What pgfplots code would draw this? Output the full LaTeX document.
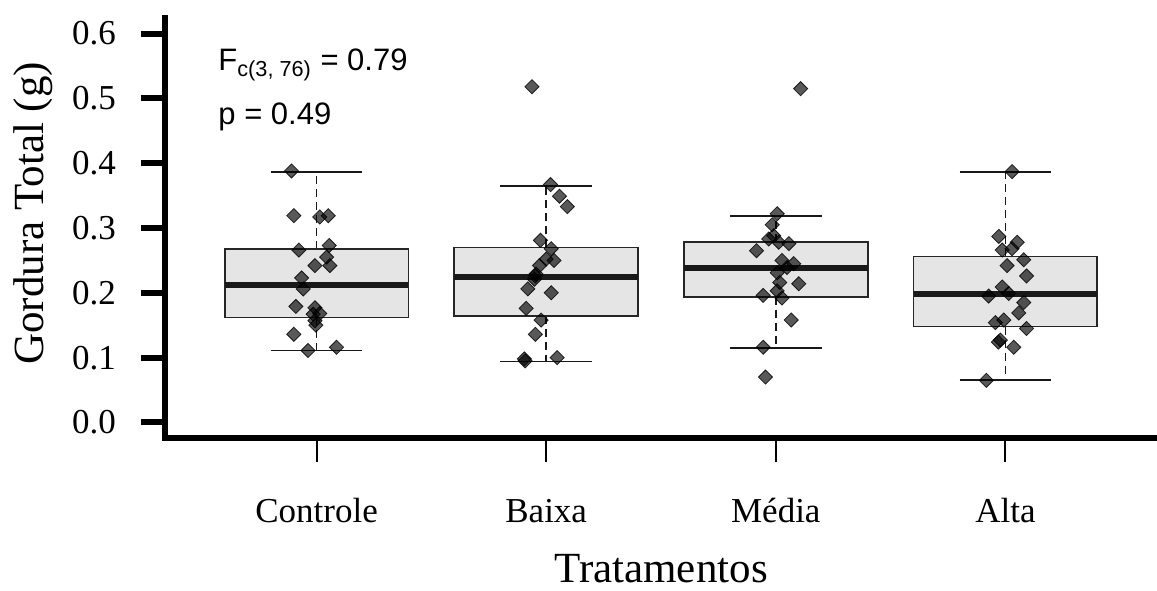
\documentclass[border=0pt]{standalone}
\usepackage{fontspec}
\setmainfont{Liberation Serif}
\newfontfamily\arialfont{Liberation Sans}
\usepackage{pgfplots}
\pgfplotsset{compat=1.18}
\definecolor{boxfill}{RGB}{229,229,229}

\pgfplotstableread{
x y
0.891 0.388
0.901 0.319
1.014 0.317
1.051 0.319
0.923 0.266
1.055 0.273
1.044 0.255
0.993 0.242
1.058 0.242
0.935 0.223
0.942 0.206
0.910 0.179
0.993 0.177
0.985 0.167
1.014 0.168
0.993 0.157
0.997 0.150
0.901 0.136
0.963 0.111
1.087 0.116
}\ptsControle
\pgfplotstableread{
x y
1.938 0.518
2.019 0.367
2.058 0.349
2.092 0.333
1.975 0.281
2.022 0.268
2.000 0.252
2.034 0.250
1.971 0.242
1.956 0.229
1.949 0.221
1.952 0.226
1.920 0.206
2.022 0.200
1.913 0.176
1.978 0.158
1.953 0.136
1.905 0.098
1.908 0.095
2.048 0.100
}\ptsBaixa
\pgfplotstableread{
x y
3.108 0.515
3.006 0.322
2.984 0.305
2.991 0.288
2.969 0.283
3.013 0.278
3.057 0.276
2.916 0.265
3.027 0.250
3.078 0.245
3.049 0.239
3.006 0.231
3.017 0.216
3.100 0.214
3.006 0.203
2.945 0.196
3.027 0.192
3.067 0.158
2.945 0.116
2.955 0.070
}\ptsMedia
\pgfplotstableread{
x y
4.029 0.387
3.971 0.287
4.051 0.278
3.986 0.266
4.029 0.268
4.080 0.251
4.007 0.242
4.092 0.226
3.986 0.209
3.927 0.195
4.014 0.199
4.080 0.185
4.058 0.169
3.956 0.154
3.993 0.158
4.092 0.145
3.978 0.127
3.969 0.124
4.036 0.116
3.917 0.065
}\ptsAlta

% box statistics: position, lower whisker, lower quartile, median, upper quartile, upper whisker
% Controle: 1, 0.111, 0.162, 0.212, 0.268, 0.387
% Baixa:    2, 0.094, 0.164, 0.224, 0.270, 0.365
% Media:    3, 0.115, 0.194, 0.238, 0.278, 0.318
% Alta:     4, 0.065, 0.148, 0.198, 0.256, 0.387

\begin{document}
\begin{tikzpicture}
\useasboundingbox (-82.5pt,-76pt) rectangle (496pt,219pt);
\begin{axis}[
  at={(0pt,0pt)}, anchor=south west,
  scale only axis, width=496pt, height=210pt,
  xmin=0.34, xmax=4.66, ymin=-0.024, ymax=0.624,
  axis x line*=bottom, axis y line*=left,
  axis line style={line width=3pt, line cap=rect, -},
  every outer x axis line/.append style={-},
  every outer y axis line/.append style={-},
  tick align=outside,
  major tick length=12pt,
  xtick={1,2,3,4},
  xticklabels={Controle,Baixa,Média,Alta},
  ytick={0,0.1,0.2,0.3,0.4,0.5,0.6},
  xtick style={line width=1pt, black},
  ytick style={line width=3pt, black},
  /pgf/number format/assume math mode=true,
  yticklabel style={/pgf/number format/fixed, /pgf/number format/fixed zerofill, /pgf/number format/precision=1, anchor=east, xshift=-9pt},
  ticklabel style={font=\fontsize{17.5pt}{21pt}\selectfont},
  xticklabel style={anchor=base, yshift=-30pt},
  xlabel={Tratamentos},
  ylabel={Gordura Total (g)},
  label style={font=\fontsize{21.5pt}{25pt}\selectfont},
  xlabel style={at={(axis description cs:0.5,0)}, anchor=base, yshift=-72pt},
  ylabel style={at={(axis description cs:-0.122,0.535)}, anchor=base},
  boxst/.style={draw=black!85, fill=boxfill, line width=0.9pt},
  medst/.style={draw=black!90, line width=3pt},
  whisk/.style={draw=black!90, line width=0.9pt, dash pattern=on 4pt off 2.5pt},
  capst/.style={draw=black!90, line width=0.9pt},
]
% Controle
\addplot[whisk] coordinates {(1,0.268) (1,0.387)};
\addplot[whisk] coordinates {(1,0.162) (1,0.111)};
\addplot[capst] coordinates {(0.8,0.387) (1.2,0.387)};
\addplot[capst] coordinates {(0.8,0.111) (1.2,0.111)};
\addplot[boxst] coordinates {(0.6,0.162) (1.4,0.162) (1.4,0.268) (0.6,0.268)} -- cycle;
\addplot[medst] coordinates {(0.6,0.212) (1.4,0.212)};
% Baixa
\addplot[whisk] coordinates {(2,0.270) (2,0.365)};
\addplot[whisk] coordinates {(2,0.164) (2,0.094)};
\addplot[capst] coordinates {(1.8,0.365) (2.2,0.365)};
\addplot[capst] coordinates {(1.8,0.094) (2.2,0.094)};
\addplot[boxst] coordinates {(1.6,0.164) (2.4,0.164) (2.4,0.270) (1.6,0.270)} -- cycle;
\addplot[medst] coordinates {(1.6,0.224) (2.4,0.224)};
% Media
\addplot[whisk] coordinates {(3,0.278) (3,0.318)};
\addplot[whisk] coordinates {(3,0.194) (3,0.115)};
\addplot[capst] coordinates {(2.8,0.318) (3.2,0.318)};
\addplot[capst] coordinates {(2.8,0.115) (3.2,0.115)};
\addplot[boxst] coordinates {(2.6,0.194) (3.4,0.194) (3.4,0.278) (2.6,0.278)} -- cycle;
\addplot[medst] coordinates {(2.6,0.238) (3.4,0.238)};
% Alta
\addplot[whisk] coordinates {(4,0.256) (4,0.387)};
\addplot[whisk] coordinates {(4,0.148) (4,0.065)};
\addplot[capst] coordinates {(3.8,0.387) (4.2,0.387)};
\addplot[capst] coordinates {(3.8,0.065) (4.2,0.065)};
\addplot[boxst] coordinates {(3.6,0.148) (4.4,0.148) (4.4,0.256) (3.6,0.256)} -- cycle;
\addplot[medst] coordinates {(3.6,0.198) (4.4,0.198)};

\pgfplotsset{ptstyle/.style={only marks, mark=square*, mark size=2.5pt,
  mark options={rotate=45, fill=black, fill opacity=0.65, draw=black, draw opacity=0.8, line width=0.4pt}}}
\addplot[ptstyle] table[x=x,y=y] {\ptsControle};
\addplot[ptstyle] table[x=x,y=y] {\ptsBaixa};
\addplot[ptstyle] table[x=x,y=y] {\ptsMedia};
\addplot[ptstyle] table[x=x,y=y] {\ptsAlta};

\node[anchor=base west, inner sep=0pt, font=\arialfont\fontsize{15.5pt}{18pt}\selectfont]
  at (axis cs:0.571,0.5434) {F\textsubscript{c(3, 76)} = 0.79};
\node[anchor=base west, inner sep=0pt, font=\arialfont\fontsize{15.5pt}{18pt}\selectfont]
  at (axis cs:0.571,0.460) {p = 0.49};
\end{axis}
\end{tikzpicture}
\end{document}
